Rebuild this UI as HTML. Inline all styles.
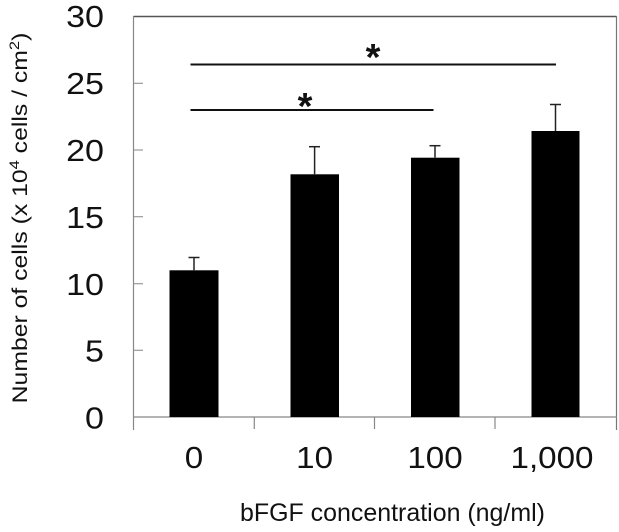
<!DOCTYPE html>
<html>
<head>
<meta charset="utf-8">
<style>
  html, body { margin: 0; padding: 0; background: #ffffff; }
  svg { display: block; }
  text { font-family: "Liberation Sans", Arial, sans-serif; fill: #111; }
</style>
</head>
<body>
<svg width="619" height="532" viewBox="0 0 619 532" xmlns="http://www.w3.org/2000/svg">
  <rect x="0" y="0" width="619" height="532" fill="#ffffff"/>

  <!-- plot frame -->
  <line x1="133.5" y1="16.5" x2="616.5" y2="16.5" stroke="#555" stroke-width="1.5"/>
  <line x1="616.5" y1="16" x2="616.5" y2="430" stroke="#777" stroke-width="1.2"/>
  <line x1="133.5" y1="16" x2="133.5" y2="430" stroke="#888" stroke-width="1.2"/>
  <line x1="133" y1="417" x2="617" y2="417" stroke="#888" stroke-width="1.2"/>

  <!-- y ticks (inward) -->
  <g stroke="#999" stroke-width="1.2">
    <line x1="134" y1="83.3" x2="143" y2="83.3"/>
    <line x1="134" y1="150" x2="143" y2="150"/>
    <line x1="134" y1="216.7" x2="143" y2="216.7"/>
    <line x1="134" y1="283.7" x2="143" y2="283.7"/>
    <line x1="134" y1="350.3" x2="143" y2="350.3"/>
  </g>

  <!-- x ticks (downward) -->
  <g stroke="#888" stroke-width="1.2">
    <line x1="254.3" y1="417" x2="254.3" y2="429"/>
    <line x1="374.5" y1="417" x2="374.5" y2="429"/>
    <line x1="495" y1="417" x2="495" y2="429"/>
  </g>

  <!-- bars -->
  <g fill="#000">
    <rect x="169.5" y="270.3" width="49" height="146.7"/>
    <rect x="290.5" y="174.3" width="48.5" height="242.7"/>
    <rect x="411" y="157.7" width="48.5" height="259.3"/>
    <rect x="531.5" y="131" width="48" height="286"/>
  </g>

  <!-- error bars -->
  <g stroke="#222" stroke-width="1.5">
    <line x1="194" y1="270.3" x2="194" y2="257.5"/>
    <line x1="188.5" y1="257.5" x2="199.5" y2="257.5"/>
    <line x1="314.6" y1="174.3" x2="314.6" y2="146.7"/>
    <line x1="309" y1="146.7" x2="320" y2="146.7"/>
    <line x1="435" y1="157.7" x2="435" y2="145.7"/>
    <line x1="429.5" y1="145.7" x2="440.5" y2="145.7"/>
    <line x1="555.5" y1="131" x2="555.5" y2="104.5"/>
    <line x1="550" y1="104.5" x2="561" y2="104.5"/>
  </g>

  <!-- significance lines -->
  <g stroke="#111" stroke-width="2">
    <line x1="190.5" y1="64.5" x2="556" y2="64.5"/>
    <line x1="190.5" y1="110" x2="433.5" y2="110"/>
  </g>
  <text x="373" y="70" font-size="38" font-weight="bold" text-anchor="middle">*</text>
  <text x="305" y="119" font-size="38" font-weight="bold" text-anchor="middle">*</text>

  <!-- y tick labels -->
  <g font-size="31" text-anchor="end">
    <text transform="translate(104,27) scale(1.1,1)">30</text>
    <text transform="translate(104,94) scale(1.1,1)">25</text>
    <text transform="translate(104,161) scale(1.1,1)">20</text>
    <text transform="translate(104,228) scale(1.1,1)">15</text>
    <text transform="translate(104,295) scale(1.1,1)">10</text>
    <text transform="translate(104,361.5) scale(1.1,1)">5</text>
    <text transform="translate(104,428.5) scale(1.1,1)">0</text>
  </g>

  <!-- x tick labels -->
  <g font-size="31" text-anchor="middle">
    <text transform="translate(194,468) scale(1.07,1)">0</text>
    <text transform="translate(314.6,468) scale(1.07,1)">10</text>
    <text transform="translate(435,468) scale(1.07,1)">100</text>
    <text transform="translate(552,468) scale(1.07,1)">1,000</text>
  </g>

  <!-- x axis title -->
  <text x="240" y="521" font-size="25" textLength="305" lengthAdjust="spacingAndGlyphs">bFGF concentration (ng/ml)</text>

  <!-- y axis title -->
  <text transform="translate(27,218) rotate(-90) scale(1.18,1)" font-size="21" text-anchor="middle">Number of cells (x 10<tspan font-size="14" dy="-8">4</tspan><tspan dy="8"> cells / cm</tspan><tspan font-size="14" dy="-8">2</tspan><tspan dy="8">)</tspan></text>
</svg>
</body>
</html>
